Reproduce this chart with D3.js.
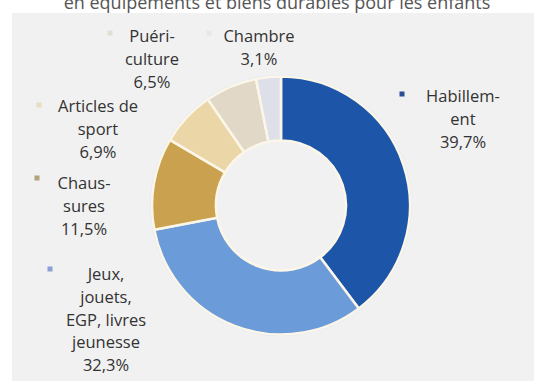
<!DOCTYPE html>
<html>
<head>
<meta charset="utf-8">
<script src="https://cdn.jsdelivr.net/npm/d3@7"></script>
<style>
  html, body { margin: 0; padding: 0; background: #ffffff; }
  svg { display: block; }
  text { font-family: "Open Sans", "DejaVu Sans", sans-serif; }
</style>
</head>
<body>
<svg id="chart" width="534" height="381"></svg>
<script>
// Répartition des dépenses en équipements et biens durables pour les enfants
const categories = ["Habillement", "Jeux, jouets, EGP, livres jeunesse", "Chaussures", "Articles de sport", "Puériculture", "Chambre"];
const shares = [39.7, 32.3, 11.5, 6.9, 6.5, 3.1];
const sliceColors = ["#1d55a8", "#6b9bd9", "#caa24f", "#ebd6a8", "#e2d8c7", "#dde0e8"];
// Label lines as set in the legend (hyphenated words kept as printed)
const labelLines = [
  ["Habillem-", "ent"],
  ["Jeux,", "jouets,", "EGP, livres", "jeunesse"],
  ["Chaus-", "sures"],
  ["Articles de", "sport"],
  ["Puéri-", "culture"],
  ["Chambre"]
];
const titleText = "en équipements et biens durables pour les enfants";

const svg = d3.select("#chart");
const W = 534, H = 381;

// Title band and grey panel
svg.append("rect").attr("x", 0).attr("y", 0).attr("width", W).attr("height", H).attr("fill", "#ffffff");
svg.append("text")
  .attr("x", 277).attr("y", 9)
  .attr("text-anchor", "middle")
  .attr("font-size", 18)
  .attr("fill", "#555555")
  .text(titleText);
svg.append("rect").attr("x", 12).attr("y", 13).attr("width", W - 12).attr("height", H - 13).attr("fill", "#f1f1f1");

// Donut
const cx = 281, cy = 205.5, rOuter = 129, rInner = 65;
const data = categories.map((c, i) => ({ name: c, value: shares[i], color: sliceColors[i], lines: labelLines[i] }));
const pie = d3.pie().value(d => d.value).sort(null);
const arc = d3.arc().innerRadius(rInner).outerRadius(rOuter);
const g = svg.append("g").attr("transform", `translate(${cx},${cy})`);
g.append("circle").attr("r", rOuter + 1).attr("fill", "none").attr("stroke", "#dfe9f7").attr("stroke-width", 1.5);
g.selectAll("path.slice")
  .data(pie(data))
  .join("path")
  .attr("class", "slice")
  .attr("d", arc)
  .attr("fill", d => d.data.color)
  .attr("stroke", "#fbf6e8")
  .attr("stroke-width", 2.5)
  .attr("stroke-linejoin", "round");

// Legend labels: marker square + centred text block
const fmt = v => d3.format(".1f")(v).replace(".", ",") + "%";
const legendPos = [
  { x: 463, y: 102, mx: 402, my: 94 },
  { x: 106, y: 280, mx: 50, my: 269 },
  { x: 84, y: 189, mx: 37, my: 178 },
  { x: 98, y: 112, mx: 39, my: 105 },
  { x: 152, y: 42, mx: 110, my: 33 },
  { x: 259, y: 42, mx: 209, my: 33 }
];
const lineH = 22.8;
const markerColors = ["#2a4f94", "#8a9fd6", "#b0a47c", "#e8dcc0", "#e4dfd4", "#e6e7ec"];
data.forEach((d, i) => {
  const p = legendPos[i];
  svg.append("rect")
    .attr("x", p.mx - 2.5).attr("y", p.my - 2.5)
    .attr("width", 5).attr("height", 5)
    .attr("fill", markerColors[i]);
  const t = svg.append("text")
    .attr("text-anchor", "middle")
    .attr("font-size", 16.5)
    .attr("fill", "#333333");
  const lines = d.lines.concat([fmt(d.value)]);
  lines.forEach((ln, j) => {
    t.append("tspan").attr("x", p.x).attr("y", p.y + j * lineH).text(ln);
  });
});
</script>
</body>
</html>
